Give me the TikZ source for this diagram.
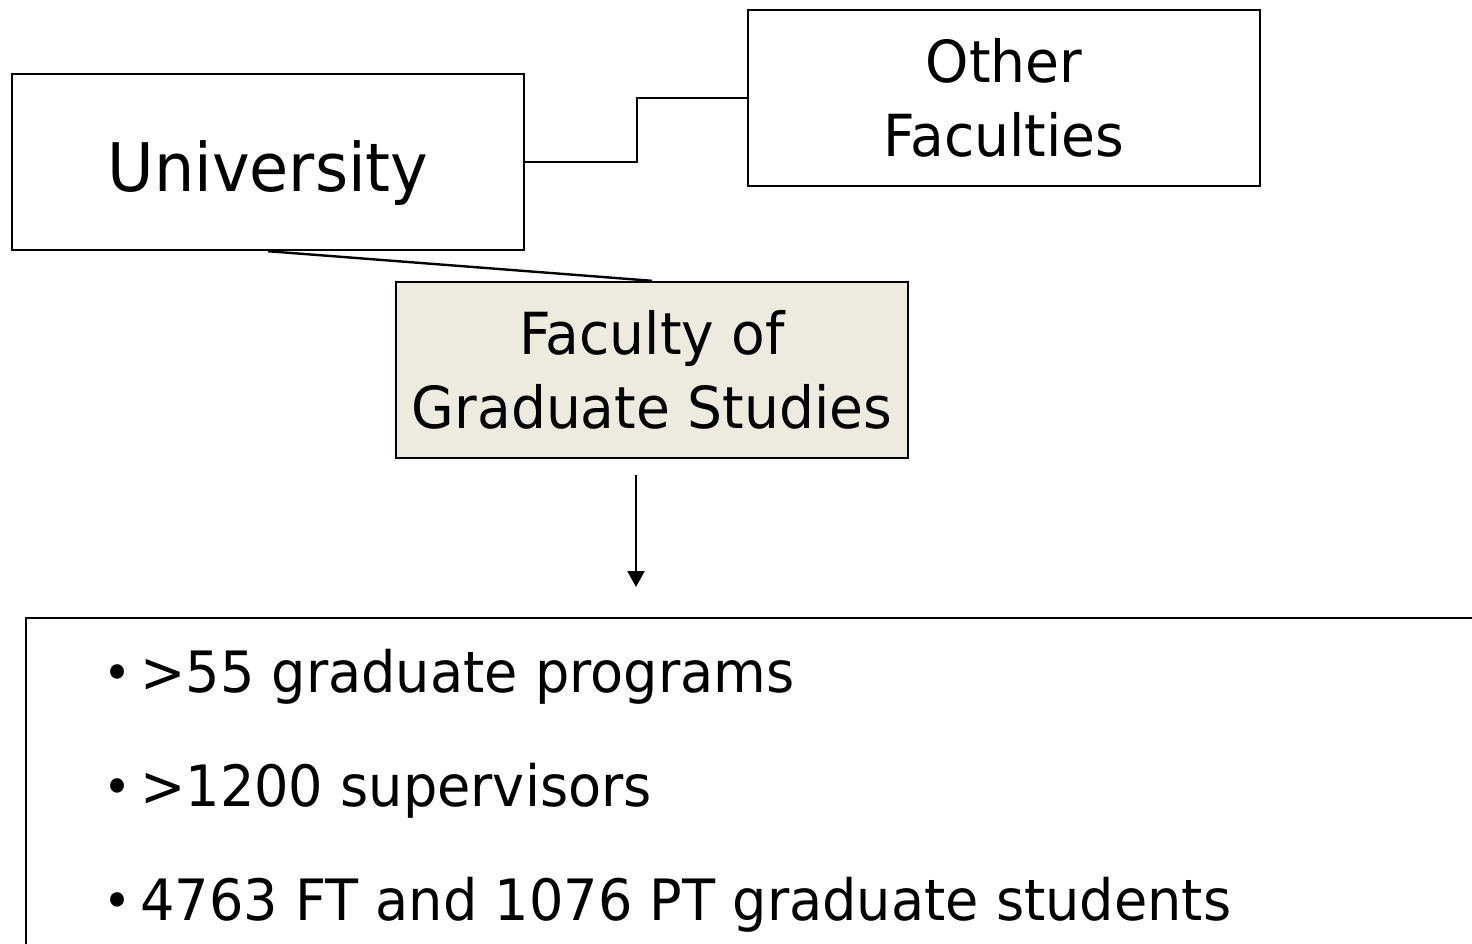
\documentclass[tikz,border=0pt]{standalone}
\usepackage{fontspec}
\setmainfont{DejaVu Sans}[FakeStretch=0.95]
\usetikzlibrary{arrows.meta}
\definecolor{fgsfill}{HTML}{EDEBE0}
\tikzset{
  box/.style={draw=black, line width=2.4pt, rectangle, inner sep=0pt, minimum width=512pt, minimum height=176pt, align=center},
  conn/.style={draw=black, line width=2.4pt},
  bigtxt/.style={font=\fontsize{67}{80}\selectfont, text height=58pt, text depth=0pt},
  midtxt/.style={font=\fontsize{58}{74}\selectfont},
  itemtxt/.style={font=\fontsize{57}{70}\selectfont, anchor=base west, inner sep=0pt},
  bullettxt/.style={font=\fontsize{50}{60}\selectfont, anchor=base west, inner sep=0pt},
}
\begin{document}
\begin{tikzpicture}[x=1pt,y=-1pt]
\useasboundingbox (0,0) rectangle (1472,943);
\clip (0,0) rectangle (1472,943);
\fill[white] (0,0) rectangle (1472,943);
\node[box, bigtxt] (uni) at (268,162) {University};
\node[box, midtxt] (oth) at (1004,98) {Other\\Faculties};
\node[box, midtxt, fill=fgsfill] (fgs) at (652,370) {Faculty of\\Graduate Studies};
\node[draw=black, line width=2.4pt, rectangle, inner sep=0pt, minimum width=1470pt, minimum height=360pt] (list) at (761,798) {};
\coordinate (a1) at (636,475);
\coordinate (a2) at (636,587);
\draw[conn] (uni.east) -- ++(112,0) |- (oth.west);
\draw[conn] (uni.south) -- (fgs.north);
\draw[conn, -{Triangle[width=17pt,length=16pt]}] (a1) -- (a2);
\node[bullettxt] (b1) at (103,690) {•};
\node[itemtxt] (t1) at (140,692) {>55 graduate programs};
\node[bullettxt] (b2) at (103,804) {•};
\node[itemtxt] (t2) at (140,806) {>1200 supervisors};
\node[bullettxt] (b3) at (103,918) {•};
\node[itemtxt] (t3) at (140,920) {4763 FT and 1076 PT graduate students};
\end{tikzpicture}
\end{document}
